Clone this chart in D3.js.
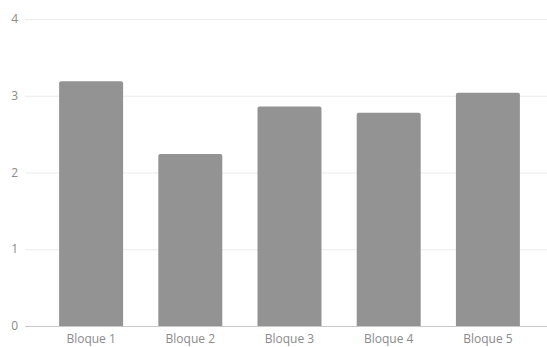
<!DOCTYPE html>
<html><head><meta charset="utf-8">
<script src="https://cdn.jsdelivr.net/npm/d3@7"></script>
<style>body{margin:0;background:#fff}svg{display:block}</style>
</head><body>
<script>
const categories = ["Bloque 1","Bloque 2","Bloque 3","Bloque 4","Bloque 5"];
const values = [3.19, 2.24, 2.86, 2.78, 3.04];
const yTicks = [0,1,2,3,4];

const W=547,H=347;
const svg=d3.select("body").append("svg").attr("width",W).attr("height",H);
const x=d3.scaleBand().domain(categories).range([41.5,537.5]).paddingInner(0.355).paddingOuter(0.1775);
const y=d3.scaleLinear().domain([0,4]).range([326,19]);
const font="'Open Sans', 'Noto Sans', sans-serif";

// gridlines
svg.append("g").selectAll("line").data(yTicks.filter(d=>d>0)).join("line")
  .attr("x1",25).attr("x2",W).attr("y1",d=>y(d)+0.5).attr("y2",d=>y(d)+0.5)
  .attr("stroke","#ebebeb").attr("stroke-width",1);

// bars with rounded top corners
svg.append("g").selectAll("path").data(values).join("path")
  .attr("fill","#939393")
  .attr("d",(d,i)=>{
    const x0=x(categories[i]), w=x.bandwidth(), y0=y(d), yb=y(0), r=2;
    return `M${x0},${yb}V${y0+r}Q${x0},${y0} ${x0+r},${y0}H${x0+w-r}Q${x0+w},${y0} ${x0+w},${y0+r}V${yb}Z`;
  });

// baseline
svg.append("line").attr("x1",25).attr("x2",W).attr("y1",y(0)+0.5).attr("y2",y(0)+0.5)
  .attr("stroke","#c8c8c8").attr("stroke-width",1);

// y labels
svg.append("g").selectAll("text").data(yTicks).join("text")
  .attr("x",18).attr("y",d=>y(d)).attr("dy","0.35em").attr("text-anchor","end")
  .attr("font-family",font).attr("font-size",12).attr("fill","#8a8a8a").text(d=>d);

// x labels
svg.append("g").selectAll("text").data(categories).join("text")
  .attr("x",d=>x(d)+x.bandwidth()/2).attr("y",343).attr("text-anchor","middle")
  .attr("font-family",font).attr("font-size",12).attr("fill","#8a8a8a").text(d=>d);
</script>
</body></html>
